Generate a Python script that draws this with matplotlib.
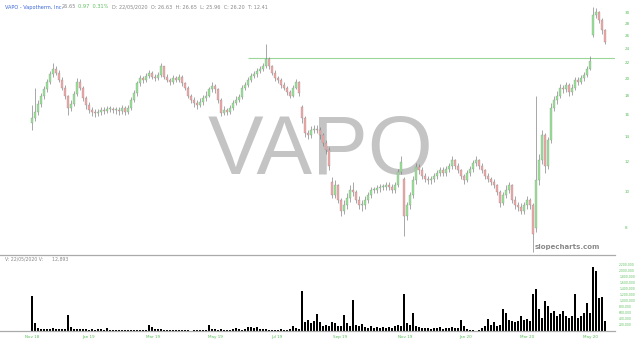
import matplotlib
matplotlib.use('Agg')
import matplotlib.pyplot as plt
from matplotlib.ticker import FixedLocator, NullLocator

# daily-ish OHLC (one candle per ~2 trading days)
opens = [
    15.2, 15.7, 16.3, 17.1, 17.9, 18.7, 19.6, 20.5, 21.2, 20.7,
    19.8, 18.9, 17.9, 16.7, 17.1, 18.2, 19.6, 18.9, 17.7, 17.0,
    16.5, 16.3, 16.2, 16.3, 16.5, 16.4, 16.6, 16.6, 16.5, 16.5,
    16.4, 16.7, 16.3, 16.7, 17.5, 18.3, 19.4, 20.0, 19.8, 20.3,
    20.6, 20.2, 20.0, 20.4, 21.5, 20.2, 19.8, 19.5, 20.0, 19.8,
    20.2, 19.4, 18.9, 18.0, 17.5, 17.2, 17.0, 17.3, 17.7, 18.0,
    18.7, 19.1, 18.7, 17.5, 16.2, 16.5, 16.3, 16.7, 17.2, 17.5,
    17.8, 18.9, 19.2, 19.8, 20.3, 20.5, 20.9, 21.2, 21.5, 22.5,
    21.5, 20.7, 20.0, 19.8, 19.2, 18.9, 18.4, 18.0, 18.9, 19.6,
    16.8, 15.7, 14.3, 14.1, 14.6, 14.7, 14.6, 14.1, 13.5, 12.9,
    10.6, 9.8, 10.4, 9.5, 8.9, 9.2, 9.6, 10.1, 10.0, 9.5,
    9.2, 9.2, 9.5, 9.8, 10.1, 10.1, 10.2, 10.3, 10.3, 10.4,
    10.3, 10.1, 10.4, 11.3, 10.8, 8.6, 9.2, 9.8, 10.7, 11.6,
    11.4, 11.0, 10.8, 10.7, 10.8, 11.0, 11.2, 11.4, 11.2, 11.5,
    11.7, 12.1, 11.7, 11.4, 11.0, 10.7, 11.2, 11.5, 11.9, 12.1,
    11.7, 11.4, 11.0, 10.8, 10.6, 10.4, 10.0, 9.3, 9.8, 10.1,
    10.4, 9.5, 9.2, 9.1, 8.9, 9.2, 9.5, 9.2, 8.0, 10.7,
    12.1, 14.1, 11.7, 13.7, 16.7, 17.5, 18.0, 18.9, 18.7, 19.2,
    18.4, 18.9, 19.8, 19.6, 20.0, 20.4, 21.2, 26.0, 29.5, 30.0,
    28.6, 26.8,
]
highs = [
    17.0, 18.9, 17.5, 18.3, 19.1, 19.9, 20.9, 22.0, 21.6, 21.0,
    20.1, 19.2, 18.1, 17.5, 18.5, 20.0, 19.9, 19.1, 17.9, 17.3,
    16.8, 16.6, 16.6, 16.8, 16.8, 16.9, 16.9, 16.8, 16.8, 16.8,
    17.0, 16.9, 17.0, 17.8, 18.6, 19.7, 20.4, 20.3, 20.6, 21.0,
    20.9, 20.5, 20.8, 22.0, 21.6, 20.5, 20.0, 20.4, 20.3, 20.5,
    20.4, 19.6, 19.1, 18.2, 17.8, 17.5, 17.7, 18.1, 18.5, 19.0,
    19.6, 19.3, 18.9, 17.7, 16.9, 16.7, 17.0, 17.5, 17.9, 18.2,
    19.2, 19.6, 20.1, 20.6, 20.9, 21.3, 21.6, 22.0, 24.6, 22.8,
    21.7, 21.0, 20.3, 20.0, 19.5, 19.1, 18.6, 19.2, 19.9, 19.7,
    17.0, 15.9, 14.6, 14.9, 15.0, 15.0, 14.8, 14.3, 13.7, 13.1,
    10.9, 10.7, 10.5, 9.6, 9.5, 9.9, 10.4, 10.6, 10.1, 9.7,
    9.5, 9.7, 10.0, 10.3, 10.3, 10.4, 10.5, 10.5, 10.6, 10.6,
    10.5, 10.6, 11.5, 12.4, 10.9, 9.4, 10.0, 11.0, 11.9, 11.8,
    11.6, 11.2, 11.0, 11.0, 11.2, 11.4, 11.6, 11.6, 11.7, 11.9,
    12.4, 12.2, 11.9, 11.5, 11.1, 11.4, 11.7, 12.1, 12.4, 12.2,
    11.9, 11.5, 11.2, 10.9, 10.8, 10.5, 10.1, 10.0, 10.4, 10.6,
    10.5, 9.7, 9.4, 9.3, 9.4, 9.7, 9.6, 9.3, 18.0, 12.6,
    14.6, 14.3, 14.0, 17.2, 18.0, 18.5, 19.3, 19.2, 19.6, 19.4,
    19.3, 20.2, 20.1, 20.4, 20.8, 21.6, 22.9, 30.9, 30.7, 30.2,
    28.9, 27.1,
]
lows = [
    14.6, 15.4, 16.0, 16.8, 17.6, 18.4, 19.3, 20.2, 20.4, 19.5,
    18.6, 17.6, 16.0, 16.4, 16.9, 18.0, 18.6, 17.4, 16.6, 16.2,
    15.9, 15.8, 15.9, 16.0, 16.1, 16.2, 16.3, 16.2, 16.1, 16.0,
    16.1, 16.0, 16.1, 16.5, 17.3, 18.0, 19.1, 19.4, 19.5, 20.0,
    19.9, 19.7, 19.8, 20.2, 19.9, 19.5, 19.2, 19.3, 19.5, 19.6,
    19.1, 18.6, 17.7, 17.2, 16.8, 16.6, 16.8, 17.0, 17.4, 17.8,
    18.4, 18.3, 17.2, 15.9, 16.0, 16.0, 16.1, 16.5, 17.0, 17.3,
    17.6, 18.6, 19.0, 19.5, 20.0, 20.2, 20.6, 20.9, 21.3, 21.2,
    20.4, 19.7, 19.4, 18.9, 18.6, 18.1, 17.7, 17.8, 18.7, 18.0,
    15.2, 14.0, 13.8, 13.9, 14.3, 14.3, 13.8, 13.2, 12.6, 11.4,
    9.6, 9.6, 9.3, 8.6, 8.7, 9.0, 9.4, 9.7, 9.3, 9.0,
    8.9, 9.0, 9.3, 9.6, 9.9, 9.9, 10.0, 10.1, 10.1, 10.1,
    9.9, 9.9, 10.3, 11.1, 7.6, 8.4, 9.0, 9.6, 10.5, 11.1,
    10.8, 10.6, 10.5, 10.5, 10.6, 10.8, 11.0, 11.0, 11.0, 11.3,
    11.5, 11.5, 11.2, 10.8, 10.5, 10.6, 11.0, 11.3, 11.7, 11.5,
    11.2, 10.8, 10.6, 10.4, 10.2, 9.8, 9.1, 9.2, 9.6, 9.9,
    9.3, 9.0, 8.9, 8.7, 8.7, 9.0, 9.0, 6.9, 7.8, 10.4,
    11.8, 11.2, 11.5, 13.5, 16.4, 17.1, 17.7, 18.3, 18.4, 18.0,
    18.1, 18.6, 19.2, 19.3, 19.7, 20.1, 21.0, 25.8, 28.9, 28.0,
    26.3, 24.7,
]
closes = [
    15.7, 16.3, 17.1, 17.9, 18.7, 19.6, 20.5, 21.2, 20.7, 19.8,
    18.9, 17.9, 16.7, 17.1, 18.2, 19.6, 18.9, 17.7, 17.0, 16.5,
    16.3, 16.2, 16.3, 16.5, 16.4, 16.6, 16.6, 16.5, 16.5, 16.4,
    16.7, 16.3, 16.7, 17.5, 18.3, 19.4, 20.0, 19.8, 20.3, 20.6,
    20.2, 20.0, 20.4, 21.5, 20.2, 19.8, 19.5, 20.0, 19.8, 20.2,
    19.4, 18.9, 18.0, 17.5, 17.2, 17.0, 17.3, 17.7, 18.0, 18.7,
    19.1, 18.7, 17.5, 16.2, 16.5, 16.3, 16.7, 17.2, 17.5, 17.8,
    18.9, 19.2, 19.8, 20.3, 20.5, 20.9, 21.2, 21.5, 22.5, 21.5,
    20.7, 20.0, 19.8, 19.2, 18.9, 18.4, 18.0, 18.9, 19.6, 18.3,
    15.7, 14.3, 14.1, 14.6, 14.7, 14.6, 14.1, 13.5, 12.9, 11.7,
    9.8, 10.4, 9.5, 8.9, 9.2, 9.6, 10.1, 10.0, 9.5, 9.2,
    9.2, 9.5, 9.8, 10.1, 10.1, 10.2, 10.3, 10.3, 10.4, 10.3,
    10.1, 10.4, 11.3, 12.0, 8.6, 9.2, 9.8, 10.7, 11.6, 11.4,
    11.0, 10.8, 10.7, 10.8, 11.0, 11.2, 11.4, 11.2, 11.5, 11.7,
    12.1, 11.7, 11.4, 11.0, 10.7, 11.2, 11.5, 11.9, 12.1, 11.7,
    11.4, 11.0, 10.8, 10.6, 10.4, 10.0, 9.3, 9.8, 10.1, 10.4,
    9.5, 9.2, 9.1, 8.9, 9.2, 9.5, 9.2, 7.7, 10.7, 12.1,
    14.1, 11.7, 13.7, 16.7, 17.5, 18.0, 18.9, 18.7, 19.2, 18.4,
    18.9, 19.8, 19.6, 20.0, 20.4, 21.2, 22.3, 29.5, 30.0, 28.6,
    26.8, 25.0,
]
# volume, thousands of shares
volume_k = [
    1170, 270, 110, 80, 70, 60, 80, 100, 70, 60,
    70, 80, 530, 120, 60, 50, 60, 70, 50, 40,
    60, 40, 50, 60, 40, 90, 40, 30, 30, 25,
    30, 25, 30, 35, 30, 30, 25, 30, 30, 200,
    130, 80, 60, 70, 25, 20, 25, 20, 25, 20,
    20, 25, 20, 15, 20, 20, 30, 40, 30, 200,
    80, 50, 40, 50, 40, 30, 30, 60, 100, 60,
    40, 50, 120, 130, 90, 130, 60, 50, 60, 40,
    40, 30, 40, 50, 40, 40, 60, 150, 100, 60,
    1330, 300, 380, 250, 330, 560, 300, 170, 200, 150,
    300, 250, 150, 180, 530, 270, 150, 1030, 200, 170,
    230, 120, 100, 150, 110, 130, 90, 120, 100, 140,
    110, 160, 200, 180, 1230, 250, 200, 600, 150, 120,
    100, 90, 110, 80, 100, 90, 120, 80, 100, 110,
    130, 100, 90, 370, 150, 60, 40, 20, 10, 20,
    100, 150, 400, 200, 300, 170, 200, 730, 600, 350,
    330, 300, 330, 500, 350, 400, 330, 1230, 1400, 730,
    430, 1000, 830, 600, 670, 500, 570, 670, 500, 430,
    500, 1230, 430, 500, 600, 930, 600, 2130, 2000, 1100,
    1130, 330,
]
date_labels = ['Nov 18', 'Jan 19', 'Mar 19', 'May 19', 'Jul 19',
               'Sep 19', 'Nov 19', 'Jan 20', 'Mar 20', 'May 20']
date_pos = [0, 18.7, 40.3, 61, 81.7, 102.7, 124.3, 144.7, 165, 186.3]
price_ticks = [8, 10, 12, 14, 16, 18, 20, 22, 24, 26, 28, 30]
vol_ticks = [200000 * k for k in range(1, 12)]
resist_level = 22.7
resist_from = 72

UP = '#95e595'
DOWN = '#f2a8a8'
GREEN_TXT = '#5cbf5c'

W, H = 640, 343
fig = plt.figure(figsize=(W / 100, H / 100), dpi=100)


def px_axes(l, t, r, b):
    return fig.add_axes([l / W, 1 - b / H, (r - l) / W, (b - t) / H])


ax = px_axes(0, 0, 615, 255)
axv = px_axes(0, 255, 615, 331)

n = len(closes)
idx = list(range(n))
xlim = (-10.67, 194.33)

# price pane
ax.set_yscale('log')
ax.vlines(idx, lows, highs, color='#777777', linewidth=0.45, zorder=2)
bottoms = [min(o, c) for o, c in zip(opens, closes)]
heights = [max(abs(c - o), 0.04) for o, c in zip(opens, closes)]
cols = [UP if c >= o else DOWN for o, c in zip(opens, closes)]
ax.bar(idx, heights, bottom=bottoms, width=0.75, color=cols,
       edgecolor='#888888', linewidth=0.2, zorder=3)
ax.hlines(resist_level, resist_from, xlim[1], color='#9ad89a', linewidth=0.8, zorder=1)

ax.set_xlim(*xlim)
ax.set_ylim(6.78, 32.3)
ax.yaxis.set_major_locator(FixedLocator(price_ticks))
ax.yaxis.set_minor_locator(NullLocator())
ax.set_yticklabels([str(t) for t in price_ticks])
ax.yaxis.tick_right()
ax.tick_params(axis='y', length=0, pad=7, labelsize=3, colors=GREEN_TXT)
ax.set_xticks([])
for s in ax.spines.values():
    s.set_visible(False)
ax.set_facecolor('none')

ax.text(0.521, 0.405, 'VAPO', transform=ax.transAxes, ha='center', va='center',
        fontsize=60, color='#c4c4c4',
        family=['Liberation Sans Narrow', 'Liberation Sans'], zorder=0)
ax.text(0.975, 0.02, 'slopecharts.com', transform=ax.transAxes, ha='right',
        va='bottom', fontsize=5, color='#8a8a8a', fontweight='bold')

# volume pane
axv.bar(idx, [v * 1000 for v in volume_k], width=0.8,
        color='black', linewidth=0)
axv.set_xlim(*xlim)
axv.set_ylim(0, 2530000)
axv.yaxis.set_major_locator(FixedLocator(vol_ticks))
axv.set_yticklabels([f'{v:,}' for v in vol_ticks])
axv.yaxis.tick_right()
axv.tick_params(axis='y', length=0, pad=3, labelsize=2.2, colors=GREEN_TXT)
axv.set_xticks(date_pos)
axv.set_xticklabels(date_labels)
axv.tick_params(axis='x', length=0, pad=3, labelsize=3, colors=GREEN_TXT)
for k in ('left', 'right'):
    axv.spines[k].set_visible(False)
for k in ('top', 'bottom'):
    axv.spines[k].set_color('#aaaaaa')
    axv.spines[k].set_linewidth(0.9)
axv.set_facecolor('none')

# header lines
fig.text(5 / W, 1 - 7 / H, 'VAPO - Vapotherm, Inc.', fontsize=3.6, color='#3a66d6',
         va='center')
fig.text(62 / W, 1 - 7 / H, '26.65', fontsize=3.6, color='#888888', va='center')
fig.text(78 / W, 1 - 7 / H, '0.97  0.31%', fontsize=3.6, color=GREEN_TXT, va='center')
fig.text(112 / W, 1 - 7 / H,
         'D: 22/05/2020  O: 26.63  H: 26.65  L: 25.96  C: 26.20  T: 12.41',
         fontsize=3.6, color='#888888', va='center')
fig.text(5 / W, 1 - 259 / H, 'V: 22/05/2020 V:      12,893', fontsize=3.3,
         color='#888888', va='center')

fig.savefig('out.png', dpi=100, facecolor='white')
